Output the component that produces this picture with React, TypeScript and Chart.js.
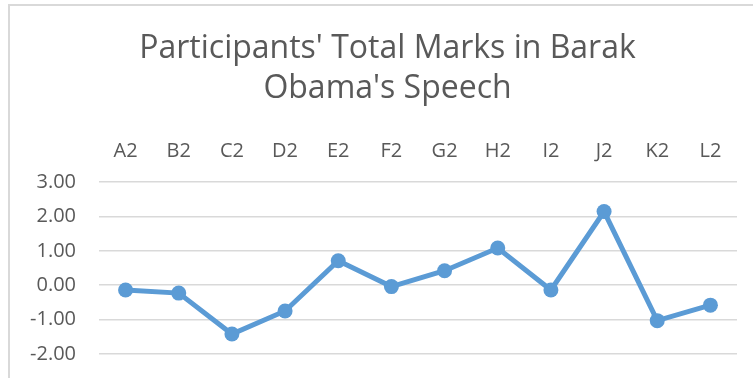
import React, { useEffect, useRef } from "react";
import { Chart, registerables } from "chart.js";

Chart.register(...registerables);

const categories = ["A2", "B2", "C2", "D2", "E2", "F2", "G2", "H2", "I2", "J2", "K2", "L2"];
const totalMarks = [-0.14, -0.23, -1.42, -0.75, 0.71, -0.04, 0.42, 1.08, -0.14, 2.14, -1.03, -0.58];
const titleLines = ["Participants' Total Marks in Barak", "Obama's Speech"];
const yMin = -2;
const yMax = 3;
const yStep = 1;

const FONT = "'Open Sans', sans-serif";
const TEXT = "#595959";
const BLUE = "#5B9BD5";

// Centre the title over the bordered chart frame rather than the canvas.
const titleShift = {
  id: "titleShift",
  afterLayout(chart: any) {
    const tb = chart.titleBlock;
    if (tb) {
      tb.left = 38;
      tb.right = 737;
    }
  },
};

export default function App() {
  const ref = useRef<HTMLCanvasElement | null>(null);

  useEffect(() => {
    if (!ref.current) return;
    const chart = new Chart(ref.current, {
      type: "line",
      data: {
        labels: categories,
        datasets: [
          {
            data: totalMarks,
            borderColor: BLUE,
            backgroundColor: BLUE,
            borderWidth: 5,
            pointRadius: 7.5,
            pointBorderWidth: 0,
            pointBackgroundColor: BLUE,
            tension: 0,
          },
        ],
      },
      options: {
        animation: false,
        responsive: false,
        maintainAspectRatio: false,
        layout: { padding: { left: 0, right: 16, top: 0, bottom: 24 } },
        plugins: {
          legend: { display: false },
          tooltip: { enabled: false },
          title: {
            display: true,
            text: titleLines,
            color: TEXT,
            font: { family: FONT, size: 32, weight: "normal", lineHeight: 1.25 },
            padding: { top: 29, bottom: 11 },
          },
        },
        scales: {
          x: {
            position: "top",
            offset: true,
            grid: { display: false, drawTicks: false },
            border: { display: false },
            ticks: {
              color: TEXT,
              font: { family: FONT, size: 20 },
              padding: 19,
              maxRotation: 0,
              autoSkip: false,
            },
          },
          y: {
            min: yMin,
            max: yMax,
            afterFit: (scale: any) => {
              scale.width = 99;
              scale.paddingTop = 0;
              scale.paddingBottom = 0;
            },
            grid: { color: "#d9d9d9", lineWidth: 1.5, drawTicks: false },
            border: { display: false },
            ticks: {
              stepSize: yStep,
              color: TEXT,
              font: { family: FONT, size: 20 },
              padding: 23,
              callback: (v: any) => Number(v).toFixed(2),
            },
          },
        },
      },
      plugins: [titleShift],
    });
    return () => chart.destroy();
  }, []);

  return (
    <div style={{ position: "fixed", left: 0, top: 0, width: 753, height: 378, overflow: "hidden", background: "#fff" }}>
      <canvas ref={ref} width={753} height={378} style={{ position: "absolute", left: 0, top: 0 }} />
      <div
        style={{
          position: "absolute",
          left: 8,
          top: 4,
          width: 800,
          height: 400,
          border: "2px solid #d9d9d9",
          pointerEvents: "none",
        }}
      />
    </div>
  );
}
